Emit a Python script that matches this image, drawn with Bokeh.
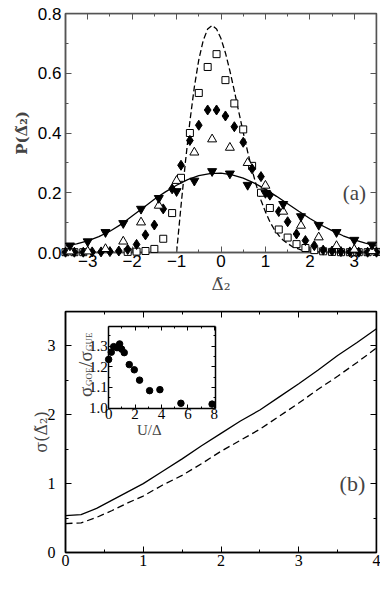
import math
from bokeh.plotting import figure
from bokeh.layouts import column
from bokeh.models import (Range1d, LinearAxis, FixedTicker, Label,
                          PrintfTickFormatter, CustomJSTickFormatter)
from bokeh.embed import file_html
from bokeh.resources import INLINE

# ---------------- panel (a) data ----------------
sq_x = [-3.5, -3.3, -3.1, -2.1, -1.9, -1.7, -1.5, -1.3, -1.1, -0.9, -0.7, -0.5, -0.3, -0.1,
        0.1, 0.3, 0.5, 0.7, 0.9, 1.1, 1.3, 1.5, 1.7, 1.9, 2.1, 2.3, 2.5, 2.7, 2.9, 3.1, 3.3, 3.5]
sq_y = [0.001, 0.001, 0.001, 0.002, 0.003, 0.005, 0.012, 0.046, 0.132, 0.250, 0.400, 0.534, 0.621, 0.664,
        0.577, 0.499, 0.412, 0.290, 0.200, 0.149, 0.077, 0.050, 0.028, 0.015, 0.008, 0.004, 0.002, 0.001,
        0.001, 0.001, 0.001, 0.002]

dm_x = [-3.5, -3.3, -3.1, -2.9, -2.7, -2.5, -2.3, -2.1, -1.9, -1.7, -1.5, -1.3, -1.1, -0.9, -0.7, -0.5,
        -0.3, -0.1, 0.1, 0.3, 0.5, 0.7, 0.9, 1.1, 1.3, 1.5, 1.7, 1.9, 2.1, 2.3, 2.5, 2.7, 2.9, 3.1, 3.3, 3.5]
dm_y = [0.001, 0.001, 0.001, 0.002, 0.002, 0.003, 0.005, 0.010, 0.027, 0.059, 0.092, 0.146, 0.213, 0.292,
        0.375, 0.426, 0.477, 0.477, 0.457, 0.421, 0.369, 0.280, 0.254, 0.192, 0.137, 0.103, 0.062, 0.040,
        0.023, 0.008, 0.005, 0.003, 0.002, 0.001, 0.001, 0.001]

tri_x = [-3.4, -3.0, -2.6, -2.2, -1.8, -1.4, -1.0, -0.6, -0.2, 0.2, 0.6, 1.0, 1.4, 1.8, 2.2, 2.6, 3.0, 3.4]
up_y = [0.004, 0.004, 0.012, 0.037, 0.101, 0.157, 0.240, 0.335, 0.379, 0.351, 0.300, 0.224, 0.137,
        0.090, 0.051, 0.022, 0.010, 0.005]
down_y = [0.023, 0.037, 0.068, 0.098, 0.146, 0.182, 0.205, 0.240, 0.272, 0.264, 0.226, 0.199, 0.162,
          0.121, 0.092, 0.068, 0.042, 0.026]

solid_x = [-3.5, -3.25, -3.0, -2.75, -2.5, -2.25, -2.0, -1.75, -1.5, -1.25, -1.0, -0.75, -0.5, -0.25, 0.0,
           0.25, 0.5, 0.75, 1.0, 1.25, 1.5, 1.75, 2.0, 2.25, 2.5, 2.75, 3.0, 3.25, 3.5]
solid_y = [0.022, 0.029, 0.039, 0.053, 0.071, 0.094, 0.122, 0.150, 0.178, 0.203, 0.225, 0.244, 0.257,
           0.264, 0.266, 0.260, 0.249, 0.232, 0.212, 0.188, 0.163, 0.138, 0.114, 0.092, 0.073, 0.056,
           0.042, 0.031, 0.022]

dash_x = [-1.0, -0.9, -0.8, -0.7, -0.6, -0.5, -0.4, -0.3, -0.2, -0.1, 0.0, 0.1, 0.2, 0.3, 0.4, 0.5, 0.6,
          0.7, 0.8, 0.9, 1.0, 1.1, 1.2, 1.3, 1.4, 1.6, 1.8, 2.0, 2.2, 2.5, 3.5]
dash_y = [0.0, 0.156, 0.304, 0.439, 0.554, 0.645, 0.710, 0.748, 0.760, 0.748, 0.716, 0.668, 0.608, 0.541,
          0.471, 0.402, 0.337, 0.276, 0.222, 0.175, 0.136, 0.103, 0.077, 0.057, 0.041, 0.020, 0.009,
          0.004, 0.002, 0.0, 0.0]

a_xticks = [-3, -2, -1, 0, 1, 2, 3]
a_yticks = [0.0, 0.2, 0.4, 0.6, 0.8]

# ---------------- panel (b) data ----------------
U = [0.0, 0.2, 0.4, 0.6, 0.8, 1.0, 1.25, 1.5, 1.75, 2.0, 2.25, 2.5, 2.75, 3.0, 3.25, 3.5, 3.75, 4.0]
sig_solid = [0.535, 0.55, 0.64, 0.76, 0.88, 1.0, 1.18, 1.36, 1.55, 1.73, 1.91, 2.07, 2.26, 2.45, 2.65,
             2.86, 3.05, 3.25]
sig_dash = [0.42, 0.43, 0.51, 0.61, 0.72, 0.82, 0.98, 1.12, 1.29, 1.47, 1.63, 1.79, 1.98, 2.17, 2.37,
            2.56, 2.76, 2.97]
b_xticks = [0, 1, 2, 3, 4]
b_yticks = [0, 1, 2, 3]

# inset
in_U = [0.0, 0.2, 0.38, 0.63, 0.83, 0.98, 1.18, 1.56, 1.94, 2.34, 3.1, 3.88, 5.47, 7.83]
in_r = [1.235, 1.27, 1.297, 1.292, 1.31, 1.285, 1.268, 1.21, 1.185, 1.135, 1.084, 1.089, 1.023, 1.019]
in_xticks = [0, 2, 4, 6, 8]
in_yticks = [1.0, 1.1, 1.2, 1.3]

SERIF = "Liberation Serif"
SANS = "Liberation Sans"
LBL = "DejaVu Serif"


def style_axis(ax, font, size, color, standoff):
    ax.major_tick_in = 6
    ax.major_tick_out = 0
    ax.minor_tick_in = 3
    ax.minor_tick_out = 0
    ax.major_label_text_font = font
    ax.major_label_text_font_size = size
    ax.major_label_text_color = "black"
    ax.major_label_standoff = standoff
    ax.axis_line_color = color
    ax.major_tick_line_color = color
    ax.minor_tick_line_color = color
    ax.axis_line_width = 1.5
    ax.major_tick_line_width = 1
    ax.minor_tick_line_width = 1


def mirror(p, side, loc, ticker, color, **kw):
    ax = LinearAxis(fixed_location=loc, ticker=ticker,
                    formatter=CustomJSTickFormatter(code="return ''"), **kw)
    style_axis(ax, SERIF, "1px", color, 0)
    p.add_layout(ax, side)
    return ax


# ================= panel (a) =================
ca = "#555555"
p1 = figure(width=380, height=298, x_range=Range1d(-3.5, 3.5), y_range=Range1d(0, 0.8),
            output_backend="svg", toolbar_location=None,
            min_border_left=64, min_border_right=4, min_border_top=13, min_border_bottom=46)
p1.grid.visible = False
p1.outline_line_color = ca
p1.outline_line_width = 1.5

xt_a = FixedTicker(ticks=a_xticks, minor_ticks=[-3.5 + 0.5 * i for i in range(15)])
yt_a = FixedTicker(ticks=a_yticks, minor_ticks=[0.1, 0.3, 0.5, 0.7])
p1.xaxis.ticker = xt_a
p1.yaxis.ticker = yt_a
p1.yaxis.formatter = PrintfTickFormatter(format="%.1f")
style_axis(p1.xaxis[0], SANS, "17px", ca, 2)
style_axis(p1.yaxis[0], SANS, "17px", ca, 4)
p1.xaxis.axis_label = "Δ̃₂"
p1.xaxis.axis_label_text_font = LBL
p1.xaxis.axis_label_text_font_size = "17px"
p1.xaxis.axis_label_text_font_style = "normal"
p1.xaxis.axis_label_standoff = 4
p1.yaxis.axis_label = "P(Δ̃₂)"
p1.yaxis.axis_label_text_font = LBL
p1.yaxis.axis_label_text_font_size = "15px"
p1.yaxis.axis_label_text_font_style = "bold"
p1.yaxis.axis_label_standoff = 4
mirror(p1, "right", 3.5, yt_a, ca)
mirror(p1, "above", 0.8, xt_a, ca)

p1.line(dash_x, dash_y, line_color="black", line_width=1.3, line_dash="6 3")
p1.line(solid_x, solid_y, line_color="black", line_width=1.3)
p1.scatter(sq_x, sq_y, marker="square", size=7, fill_color="white", line_color="black",
           line_width=1, level="overlay")
p1.scatter(dm_x, dm_y, marker="diamond", size=10, fill_color="black", line_color="black",
           level="overlay")
p1.scatter(tri_x, up_y, marker="triangle", size=9, fill_color="white", line_color="black",
           line_width=1, level="overlay")
p1.scatter(tri_x, down_y, marker="inverted_triangle", size=9, fill_color="black",
           line_color="black", level="overlay")
p1.add_layout(Label(x=3.0, y=0.2, text="(a)", text_font=SERIF, text_font_size="21px",
                    text_align="center", text_baseline="middle"))

# ================= panel (b) =================
cb = "black"
p2 = figure(width=380, height=293, x_range=Range1d(0, 4), y_range=Range1d(0, 3.5),
            output_backend="svg", toolbar_location=None,
            min_border_left=65, min_border_right=3, min_border_top=13, min_border_bottom=39)
p2.grid.visible = False
p2.outline_line_color = cb
p2.outline_line_width = 1.5

xt_b = FixedTicker(ticks=b_xticks, minor_ticks=[0.5, 1.5, 2.5, 3.5])
yt_b = FixedTicker(ticks=b_yticks, minor_ticks=[0.5, 1.5, 2.5, 3.5])
p2.xaxis.ticker = xt_b
p2.yaxis.ticker = yt_b
style_axis(p2.xaxis[0], SERIF, "16px", cb, 2)
style_axis(p2.yaxis[0], SERIF, "16px", cb, 10)
p2.yaxis.axis_label = "σ(Δ̃₂)"
p2.yaxis.axis_label_text_font = LBL
p2.yaxis.axis_label_text_font_size = "16px"
p2.yaxis.axis_label_text_font_style = "normal"
p2.yaxis.axis_label_standoff = -6
mirror(p2, "right", 4, yt_b, cb)
mirror(p2, "above", 3.5, xt_b, cb)

p2.line(U, sig_solid, line_color="black", line_width=1.3)
p2.line(U, sig_dash, line_color="black", line_width=1.3, line_dash="7 4")
p2.add_layout(Label(x=3.69, y=1.0, text="(b)", text_font=SERIF, text_font_size="22px",
                    text_align="center", text_baseline="middle"))
p2.add_layout(Label(x=2.3, y=-0.42, text="U/Δ", text_font=SERIF, text_font_size="17px",
                    text_align="center", text_baseline="middle"))

# ---- inset, mapped into the box [U0,U1] x [S0,S1] of the main panel ----
ix0, ix1 = 0.0, 8.05
iy0, iy1 = 1.0, 1.395
U0, U1, S0, S1 = 0.555, 1.923, 2.098, 3.284
kx = (ix1 - ix0) / (U1 - U0)
ky = (iy1 - iy0) / (S1 - S0)
p2.extra_x_ranges = {"ix": Range1d(ix0 - U0 * kx, ix1 + (4 - U1) * kx)}
p2.extra_y_ranges = {"iy": Range1d(iy0 - S0 * ky, iy1 + (3.5 - S1) * ky)}

xt_i = FixedTicker(ticks=in_xticks, minor_ticks=[1, 3, 5, 7])
yt_i = FixedTicker(ticks=in_yticks, minor_ticks=[1.05, 1.15, 1.25, 1.35])
ib = LinearAxis(x_range_name="ix", y_range_name="iy", fixed_location=iy0, bounds=(ix0, ix1),
                ticker=xt_i)
style_axis(ib, SERIF, "15px", cb, 1)
ib.major_tick_in = 4
ib.minor_tick_in = 2
p2.add_layout(ib, "below")
il = LinearAxis(x_range_name="ix", y_range_name="iy", fixed_location=ix0, bounds=(iy0, iy1),
                ticker=yt_i, formatter=PrintfTickFormatter(format="%.1f"))
style_axis(il, SERIF, "15px", cb, 1)
il.major_tick_in = 4
il.minor_tick_in = 2
p2.add_layout(il, "left")
for side, loc, tk, bnd in (("right", ix1, yt_i, (iy0, iy1)), ("above", iy1, xt_i, (ix0, ix1))):
    a = mirror(p2, side, loc, tk, cb, x_range_name="ix", y_range_name="iy", bounds=bnd)
    a.major_tick_in = 4
    a.minor_tick_in = 2

p2.scatter(in_U, in_r, x_range_name="ix", y_range_name="iy", marker="circle", size=6.5,
           fill_color="black", line_color="black")
p2.add_layout(Label(x=1.077, y=1.78, text="U/Δ", text_font=SERIF, text_font_size="15px",
                    text_align="center", text_baseline="middle"))
# rotated inset y label  σ_GOE / σ_GUE
ax_, ay_ = 0.29, 2.26
for txt, fs, dx, dy in (("σ", "19px", -3, 0), ("GOE", "9px", 1, 11),
                        ("/σ", "19px", -3, 30), ("GUE", "9px", 1, 46)):
    p2.add_layout(Label(x=ax_, y=ay_, x_offset=dx, y_offset=dy, text=txt, angle=math.pi / 2,
                        text_font=SERIF, text_font_size=fs, text_align="left",
                        text_baseline="alphabetic"))

layout = column(p1, p2, spacing=0)
open("out.html", "w").write(file_html(layout, INLINE))
